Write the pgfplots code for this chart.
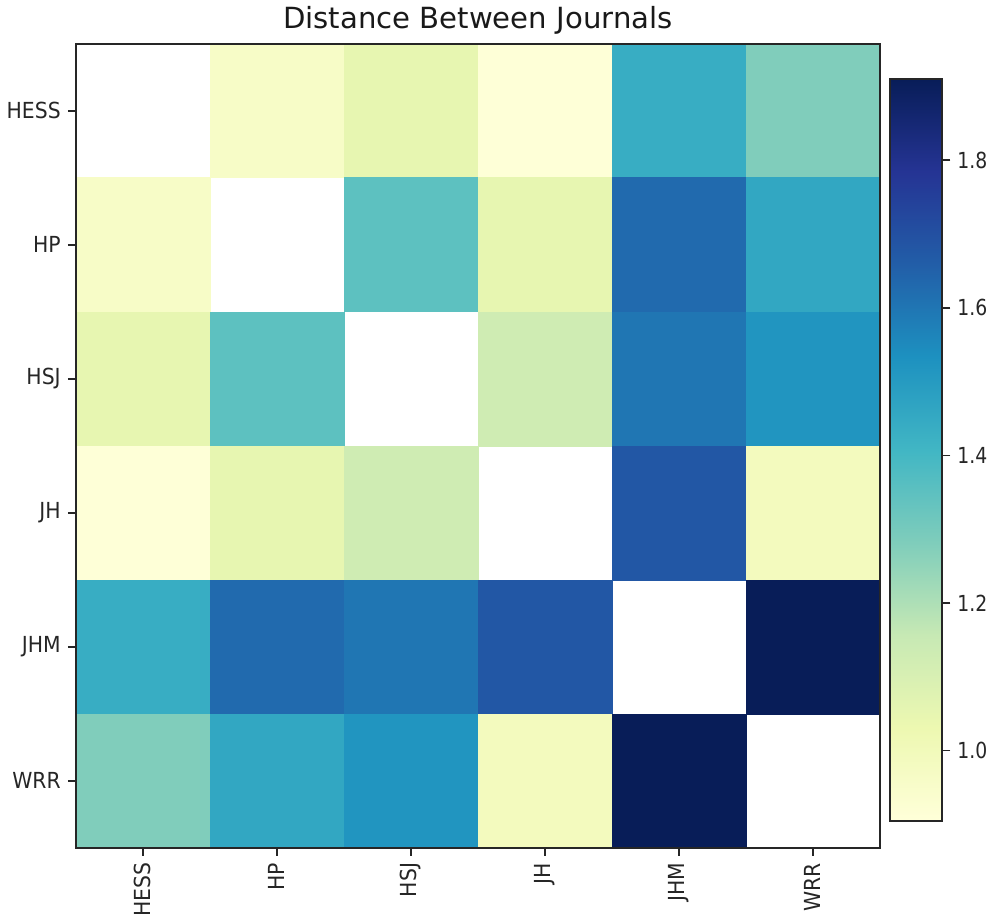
\documentclass[border=0pt]{standalone}
\usepackage{fontspec}
\setmainfont{DejaVu Sans}
\newfontfamily\tickfont{DejaVu Sans}[FakeStretch=0.92]
\newfontfamily\cbfont{DejaVu Sans}[FakeStretch=0.85]
\usepackage{pgfplots}
\pgfplotsset{compat=1.18}
\usepackage{pgfplotstable}

% YlGnBu, 9 stops
\pgfplotsset{
  colormap={ylgnbu}{
    rgb255=(255,255,217) rgb255=(237,248,177) rgb255=(199,233,180)
    rgb255=(127,205,187) rgb255=(65,182,196)  rgb255=(29,145,192)
    rgb255=(34,94,168)   rgb255=(37,52,148)   rgb255=(8,29,88)
  }
}

% column, row, distance (diagonal left blank)
\pgfplotstableread{
x y d
1 0 0.96
2 0 1.05
3 0 0.91
4 0 1.44
5 0 1.28
0 1 0.96
2 1 1.35
3 1 1.05
4 1 1.63
5 1 1.46
0 2 1.05
1 2 1.35
3 2 1.13
4 2 1.60
5 2 1.52
0 3 0.91
1 3 1.05
2 3 1.13
4 3 1.68
5 3 0.99
0 4 1.44
1 4 1.63
2 4 1.60
3 4 1.68
5 4 1.91
0 5 1.28
1 5 1.46
2 5 1.52
3 5 0.99
4 5 1.91
}\dist

\begin{document}
\begin{tikzpicture}
\begin{axis}[
    set layers=axis on top,
    mark layer=main,
    scale only axis,
    width=400pt, height=400pt,
    xmin=-0.5, xmax=5.5, ymin=-0.5, ymax=5.5,
    y dir=reverse,
    xtick={0,...,5}, ytick={0,...,5},
    xticklabels={HESS,HP,HSJ,JH,JHM,WRR},
    yticklabels={HESS,HP,HSJ,JH,JHM,WRR},
    xticklabel style={rotate=90, anchor=east},
    ticklabel style={font=\tickfont\fontsize{11}{13}\selectfont, text=black!85},
    tick align=outside,
    xtick pos=bottom, ytick pos=left,
    major tick length=4pt,
    tick style={black!85, line width=0.8pt},
    axis line style={black!85, line width=0.9pt},
    title={Distance Between Journals},
    title style={font=\fontsize{14.5}{16}\selectfont, text=black!90, yshift=-5pt},
    colormap name=ylgnbu,
    point meta min=0.905, point meta max=1.91,
    colorbar right,
    colorbar/width=26pt,
    colorbar style={
        width=26pt, height=369pt,
        at={(parent axis.north east)}, anchor=north west,
        xshift=-3.5pt, yshift=-17.5pt,
        y dir=normal,
        ytick={1.0,1.2,1.4,1.6,1.8},
        ytick pos=right,
        yticklabel pos=right,
        yticklabel style={
            /pgf/number format/.cd, fixed, fixed zerofill, precision=1,
            /pgf/number format/assume math mode=true,
            /tikz/.cd, font=\cbfont\fontsize{11}{13}\selectfont, text=black!85},
        tick align=outside,
        major tick length=4pt,
        tick style={black!85, line width=0.8pt},
        axis line style={black!85, line width=0.9pt},
    },
]
\addplot[
    scatter, only marks,
    mark=square*, mark size=33.33pt,
    mark options={line width=0.3pt},
    scatter/use mapped color={draw=mapped color, fill=mapped color},
    point meta=\thisrow{d},
] table[x=x, y=y] {\dist};
\end{axis}
\end{tikzpicture}
\end{document}
